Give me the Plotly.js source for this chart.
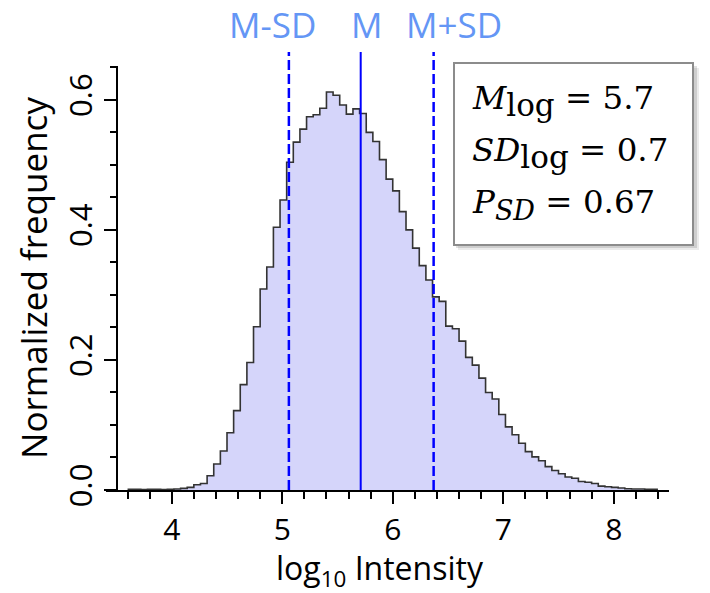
<!DOCTYPE html>
<html>
<head>
<meta charset="utf-8">
<script src="https://cdn.plot.ly/plotly-3.0.1.min.js"></script>
<style>html,body{margin:0;padding:0;background:#fff;}#chart{width:710px;height:593px;}</style>
</head>
<body>
<div id="chart"></div>
<script>
// ---- data ----
var binCenters = [3.63,3.69,3.75,3.81,3.87,3.93,3.99,4.05,4.11,4.17,
  4.23,4.29,4.35,4.41,4.47,4.53,4.59,4.65,4.71,4.77,
  4.83,4.89,4.95,5.01,5.07,5.13,5.19,5.25,5.31,5.37,
  5.43,5.49,5.55,5.61,5.67,5.73,5.79,5.85,5.91,5.97,
  6.03,6.09,6.15,6.21,6.27,6.33,6.39,6.45,6.51,6.57,
  6.63,6.69,6.75,6.81,6.87,6.93,6.99,7.05,7.11,7.17,
  7.23,7.29,7.35,7.41,7.47,7.53,7.59,7.65,7.71,7.77,
  7.83,7.89,7.95,8.01,8.07,8.13,8.19,8.25,8.31,8.37];
var frequency = [0.001,0.001,0.0008,0.001,0.001,0.0008,0.001,0.0015,0.0025,0.004,
  0.008,0.010,0.022,0.040,0.060,0.088,0.122,0.162,0.196,0.251,
  0.309,0.343,0.404,0.446,0.504,0.535,0.555,0.574,0.577,0.587,
  0.612,0.607,0.592,0.578,0.586,0.579,0.550,0.536,0.508,0.478,
  0.460,0.428,0.400,0.372,0.345,0.323,0.297,0.290,0.252,0.248,
  0.229,0.204,0.192,0.172,0.150,0.140,0.116,0.097,0.085,0.072,
  0.059,0.051,0.045,0.036,0.030,0.025,0.020,0.018,0.013,0.012,
  0.010,0.006,0.005,0.004,0.003,0.002,0.0015,0.0015,0.001,0.001];
var binWidth = 0.06;
var refLineNames = ['M-SD', 'M', 'M+SD'];
var refLineValues = [5.06, 5.71, 6.37];
var statLabels = ['<i>M</i>', '<i>SD</i>', '<i>P</i>'];
var statSubs = ['log', 'log', '<i>SD</i>'];
var statValues = ['5.7', '0.7', '0.67'];
var xTickVals = [4, 5, 6, 7, 8];
var yTickVals = [0.0, 0.2, 0.4, 0.6];
var xTitle = 'log<sub>10</sub> Intensity';
var yTitle = 'Normalized frequency';

// ---- build ----
var edgesX = binCenters.map(function(c){ return c - binWidth / 2; });
edgesX.push(binCenters[binCenters.length - 1] + binWidth / 2);
var edgesY = frequency.slice();
edgesY.push(frequency[frequency.length - 1]);

var traces = [
  {type: 'bar', x: binCenters, y: frequency, width: binWidth,
   marker: {color: 'rgb(213,213,250)', line: {width: 0}}, hoverinfo: 'skip', showlegend: false},
  {type: 'scatter', mode: 'lines', x: edgesX, y: edgesY,
   line: {shape: 'hv', color: '#333333', width: 1.6}, hoverinfo: 'skip', showlegend: false}
];

function px2x(p){ return (p - 106) / 563; }
function py2y(p){ return (490 - p) / 424; }

var shapes = [];
var annotations = [];
var labelX = [4.912, 5.762, 6.553];
refLineValues.forEach(function(v, i){
  shapes.push({type: 'line', xref: 'x', yref: 'paper', x0: v, x1: v, y0: 0, y1: 1.033,
    line: {color: '#0000ff', width: i === 1 ? 2 : 2.5, dash: i === 1 ? 'solid' : '10px,4px'}});
  annotations.push({xref: 'x', yref: 'paper', x: labelX[i], y: 1.097, text: refLineNames[i],
    showarrow: false, xanchor: 'center', yanchor: 'middle',
    font: {family: 'Open Sans', size: 35, color: '#6496f5'}});
});

// x-axis title as annotation (positioned like the reference)
annotations.push({xref: 'paper', yref: 'paper', x: px2x(380), y: py2y(570), text: xTitle,
  showarrow: false, xanchor: 'center', yanchor: 'middle',
  font: {family: 'Open Sans', size: 32, color: '#000000'}});

// stats box with shadow
shapes.push({type: 'rect', xref: 'paper', yref: 'paper', x0: px2x(458), x1: px2x(699), y0: py2y(250), y1: py2y(68),
  line: {width: 0}, fillcolor: 'rgba(0,0,0,0.08)'});
shapes.push({type: 'rect', xref: 'paper', yref: 'paper', x0: px2x(456), x1: px2x(697), y0: py2y(248), y1: py2y(66),
  line: {width: 0}, fillcolor: 'rgba(0,0,0,0.12)'});
shapes.push({type: 'rect', xref: 'paper', yref: 'paper', x0: px2x(454), x1: px2x(693), y0: py2y(245), y1: py2y(63),
  line: {width: 2, color: '#8c8c8c'}, fillcolor: '#ffffff'});

var lineYs = [101, 153, 204];
statLabels.forEach(function(lab, i){
  var sub = (i === 2) ? '<sub><span style="font-size:27px">' + statSubs[i] + '</span></sub>'
                      : '<sub><span style="font-size:31px">' + statSubs[i] + '</span></sub>';
  annotations.push({xref: 'paper', yref: 'paper', x: px2x(470), y: py2y(lineYs[i]),
    text: lab + sub + ' = ' + statValues[i], showarrow: false, xanchor: 'left', yanchor: 'middle',
    font: {family: 'DejaVu Serif', size: 32.5, color: '#000000'}});
});

var layout = {
  width: 710, height: 593,
  margin: {l: 106, r: 41, t: 66, b: 103},
  paper_bgcolor: '#ffffff', plot_bgcolor: '#ffffff',
  showlegend: false,
  bargap: 0,
  font: {family: 'Open Sans', size: 31, color: '#000000'},
  xaxis: {range: [3.405, 8.5], showline: true, linecolor: '#000000', linewidth: 2,
    tickmode: 'array', tickvals: xTickVals, ticktext: xTickVals.map(String),
    ticks: 'outside', ticklen: 12, tickwidth: 2, tickcolor: '#000000',
    minor: {dtick: 0.2, tick0: 0, ticks: 'outside', ticklen: 7, tickwidth: 2, tickcolor: '#000000'},
    showgrid: false, zeroline: false, tickfont: {size: 30}},
  yaxis: {range: [0, 0.652], anchor: 'free', position: 0.0204, showline: true, linecolor: '#000000', linewidth: 2,
    tickmode: 'array', tickvals: yTickVals, ticktext: yTickVals.map(function(v){ return v.toFixed(1); }),
    ticks: 'outside', ticklen: 12, tickwidth: 2, tickcolor: '#000000', tickangle: -90,
    minor: {dtick: 0.05, tick0: 0, ticks: 'outside', ticklen: 6, tickwidth: 2, tickcolor: '#000000'},
    showgrid: false, zeroline: false, tickfont: {size: 31},
    title: {text: yTitle, font: {size: 35}, standoff: 0}},
  shapes: shapes,
  annotations: annotations
};

Plotly.newPlot('chart', traces, layout, {staticPlot: true, displayModeBar: false});
</script>
</body>
</html>
